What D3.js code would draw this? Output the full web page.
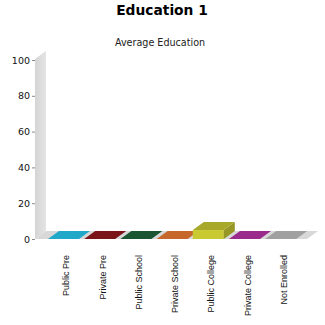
<!DOCTYPE html>
<html><head><meta charset="utf-8">
<script src="https://cdn.jsdelivr.net/npm/d3@7"></script>
<style>body{margin:0;background:#fff}svg{display:block}</style>
</head><body>
<svg id="c" width="325" height="325"></svg>
<script>
const categories = ["Public Pre","Private Pre","Public School","Private School","Public College","Private College","Not Enrolled"];
const values = [0, 0, 0, 0, 5, 0, 0];
const colors = ["#1fa8c8","#7a1418","#1a5632","#c6682c","#a8a82a","#9a2a8c","#a0a0a0"];
const yTicks = [0, 20, 40, 60, 80, 100];

const svg = d3.select("#c");
const dx = 11, dy = 8;
const y = d3.scaleLinear().domain([0, 100]).range([239, 60]);
const x = d3.scaleBand().domain(categories).range([48, 296.2]).paddingInner(0.144).paddingOuter(0);

// title
svg.append("text").attr("x", 162).attr("y", 15).attr("text-anchor", "middle")
  .attr("font-family", "DejaVu Sans").attr("font-weight", "bold").attr("font-size", 13.8).text("Education 1");
svg.append("text").attr("x", 160).attr("y", 45.5).attr("text-anchor", "middle")
  .attr("font-family", "DejaVu Sans").attr("font-size", 9.6).attr("fill", "#222").text("Average Education");

// wall gradient
const defs = svg.append("defs");
const g = defs.append("linearGradient").attr("id", "wall").attr("x1", 0).attr("x2", 1).attr("y1", 0).attr("y2", 0);
g.append("stop").attr("offset", 0).attr("stop-color", "#d4d4d4");
g.append("stop").attr("offset", 1).attr("stop-color", "#e4e4e4");

const x0 = 35, y0 = y(0), yTop = y(100) - 1;
svg.append("polygon").attr("fill", "url(#wall)")
  .attr("points", [[x0, yTop], [x0 + dx, yTop - dy], [x0 + dx, y0 - dy], [x0, y0]].join(" "));
svg.append("polygon").attr("fill", "#d8d8d8")
  .attr("points", [[x0, y0], [x0 + dx, y0 - dy], [318, y0 - dy], [307, y0]].join(" "));

// y axis
const ax = svg.append("g").attr("transform", `translate(${x0},0)`)
  .call(d3.axisLeft(y).tickValues(yTicks).tickSize(3).tickPadding(2).tickFormat(d3.format("d")));
ax.select(".domain").remove();
ax.selectAll(".tick line").attr("stroke", "#888");
ax.selectAll(".tick text").attr("font-family", "DejaVu Sans").attr("font-size", 9.5).attr("fill", "#111");

// bars
const bars = svg.append("g");
categories.forEach((c, i) => {
  const v = values[i];
  const xl = x(c), xr = x(c) + x.bandwidth();
  const yv = y(v);
  const top = d3.color(colors[i]);
  const front = top.brighter(0.5);
  const side = top.darker(0.3);
  if (v > 0) {
    bars.append("rect").attr("x", xl).attr("y", yv).attr("width", xr - xl).attr("height", y0 - yv).attr("fill", front);
    bars.append("polygon").attr("fill", side)
      .attr("points", [[xr, yv], [xr + dx, yv - dy], [xr + dx, y0 - dy], [xr, y0]].join(" "));
  }
  bars.append("polygon").attr("fill", top)
    .attr("points", [[xl, yv], [xl + dx, yv - dy], [xr + dx, yv - dy], [xr, yv]].join(" "));
});

// category labels
const lab = svg.append("g");
categories.forEach(c => {
  const cx = x(c) + x.bandwidth() / 2 + 6;
  lab.append("text").attr("transform", `translate(${cx},255) rotate(-90)`)
    .attr("text-anchor", "end").attr("font-family", "Liberation Sans").attr("font-size", 9)
    .attr("fill", "#111").text(c);
});
</script>
</body></html>
